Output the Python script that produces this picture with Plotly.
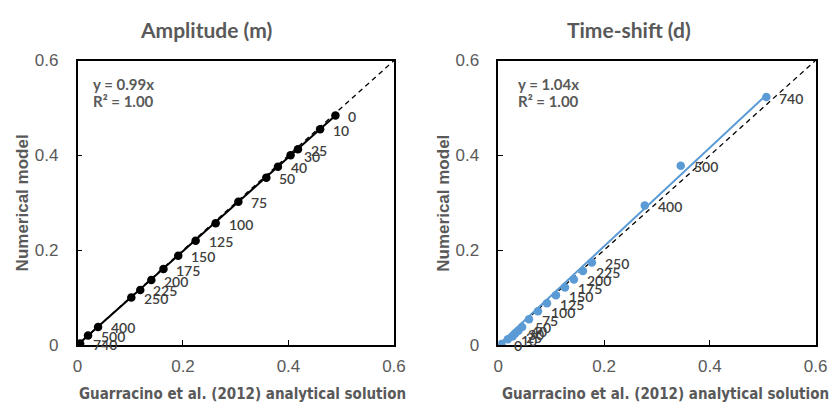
import plotly.graph_objects as go

# ---------------- data ----------------
amp_labels = ["0", "10", "25", "30", "40", "50", "75", "100", "125", "150",
              "175", "200", "225", "250", "400", "500", "740"]
amp_x = [0.489, 0.460, 0.418, 0.404, 0.380, 0.358, 0.305, 0.262, 0.224, 0.191,
         0.163, 0.140, 0.119, 0.102, 0.039, 0.020, 0.005]
amp_y = [0.484, 0.455, 0.413, 0.400, 0.376, 0.353, 0.302, 0.257, 0.220, 0.188,
         0.160, 0.137, 0.116, 0.100, 0.038, 0.020, 0.003]
amp_slope = 0.99

ts_labels = ["0", "10", "25", "30", "40", "50", "75", "100", "125", "150",
             "175", "200", "225", "250", "400", "500", "740"]
ts_x = [0.006, 0.018, 0.027, 0.032, 0.038, 0.045, 0.058, 0.075, 0.092, 0.109,
        0.126, 0.143, 0.160, 0.177, 0.277, 0.345, 0.507]
ts_y = [0.002, 0.012, 0.018, 0.024, 0.030, 0.038, 0.054, 0.071, 0.088, 0.105,
        0.121, 0.138, 0.156, 0.174, 0.294, 0.378, 0.523]
ts_slope = 1.04

tick_vals = [0, 0.2, 0.4, 0.6]
tick_text = ["0", "0.2", "0.4", "0.6"]

# ---------------- style ----------------
W, H = 840, 417
GRAY = "#595959"
LABEL = "#404040"
BLUE = "#5B9BD5"
FONT = "Lato, Open Sans, sans-serif"
SANS = "Liberation Sans, Arial, sans-serif"
COND = "DejaVu Sans Condensed, Liberation Sans, sans-serif"


def px(x):
    return x / W


def py(y):
    return 1 - y / H


fig = go.Figure()

panels = [
    dict(xa="x", ya="y", xs=amp_x, ys=amp_y, labs=amp_labels, slope=amp_slope,
         color="black", title="Amplitude (m)", eq="y = 0.99x",
         dom=[px(74), px(397)], title_x=205, xt_x=242, yt_x=18, eq_x=88),
    dict(xa="x2", ya="y2", xs=ts_x, ys=ts_y, labs=ts_labels, slope=ts_slope,
         color=BLUE, title="Time-shift (d)", eq="y = 1.04x",
         dom=[px(503.5), px(827.3)], title_x=637, xt_x=674, yt_x=448, eq_x=522),
]

annotations = []
for p in panels:
    # 1:1 dashed line
    fig.add_trace(go.Scatter(x=[tick_vals[0], tick_vals[-1]], y=[tick_vals[0], tick_vals[-1]],
                             mode="lines", xaxis=p["xa"], yaxis=p["ya"],
                             line=dict(color="black", width=1.3, dash="5px,4px"),
                             showlegend=False, hoverinfo="skip"))
    # trendline y = slope * x
    xmax = max(p["xs"])
    fig.add_trace(go.Scatter(x=[0, xmax], y=[0, p["slope"] * xmax],
                             mode="lines", xaxis=p["xa"], yaxis=p["ya"],
                             line=dict(color=p["color"], width=2),
                             showlegend=False, hoverinfo="skip"))
    # points
    fig.add_trace(go.Scatter(x=p["xs"], y=p["ys"], mode="markers",
                             xaxis=p["xa"], yaxis=p["ya"],
                             marker=dict(color=p["color"], size=8.5),
                             showlegend=False))
    # point labels
    for xv, yv, t in zip(p["xs"], p["ys"], p["labs"]):
        annotations.append(dict(x=xv, y=yv, xref=p["xa"], yref=p["ya"], text=t,
                                showarrow=False, xanchor="left", yanchor="middle",
                                xshift=11, yshift=-1,
                                font=dict(family=FONT, size=14, color=LABEL, weight=600)))
    # titles
    annotations.append(dict(x=px(p["title_x"]), y=py(21), xref="paper", yref="paper",
                            text="<b>%s</b>" % p["title"], showarrow=False,
                            xanchor="center", yanchor="middle",
                            font=dict(family=FONT, size=21, color=GRAY)))
    annotations.append(dict(x=px(p["xt_x"]), y=py(403), xref="paper", yref="paper",
                            text="<b>Guarracino et al. (2012) analytical solution</b>",
                            showarrow=False, xanchor="center", yanchor="middle",
                            font=dict(family=COND, size=15, color=GRAY)))
    annotations.append(dict(x=px(p["yt_x"]), y=py(203), xref="paper", yref="paper",
                            text="<b>Numerical model</b>", textangle=-90,
                            showarrow=False, xanchor="center", yanchor="middle",
                            font=dict(family=SANS, size=17, color=GRAY)))
    annotations.append(dict(x=px(p["eq_x"]), y=py(79), xref="paper", yref="paper",
                            text="<b>%s</b>" % p["eq"], showarrow=False,
                            xanchor="left", yanchor="middle",
                            font=dict(family=FONT, size=15, color=GRAY)))
    annotations.append(dict(x=px(p["eq_x"]), y=py(96), xref="paper", yref="paper",
                            text="<b>R² = 1.00</b>", showarrow=False,
                            xanchor="left", yanchor="middle",
                            font=dict(family=FONT, size=15, color=GRAY)))

ydom = [py(352), py(54)]
axis_common = dict(range=[0, 0.6], tickvals=tick_vals, ticktext=tick_text,
                   showgrid=False, zeroline=False, showline=True, mirror=True,
                   linecolor="black", linewidth=1.5, ticks="inside", ticklen=5,
                   tickcolor="black", tickwidth=1,
                   tickfont=dict(family=SANS, size=17, color=GRAY))

fig.update_layout(
    width=W, height=H, margin=dict(l=0, r=0, t=0, b=0),
    paper_bgcolor="white", plot_bgcolor="white",
    xaxis=dict(domain=panels[0]["dom"], anchor="y", ticklabelstandoff=5, **axis_common),
    yaxis=dict(domain=ydom, anchor="x", ticklabelstandoff=14, **axis_common),
    xaxis2=dict(domain=panels[1]["dom"], anchor="y2", ticklabelstandoff=5, **axis_common),
    yaxis2=dict(domain=ydom, anchor="x2", ticklabelstandoff=14, **axis_common),
    annotations=annotations,
)

fig.write_html("out.html")
